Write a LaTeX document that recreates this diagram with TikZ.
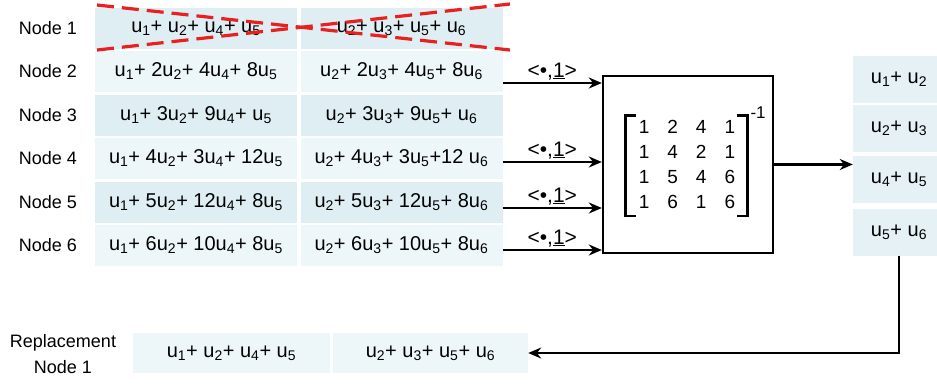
\documentclass[tikz,border=0pt]{standalone}
\usepackage{fontspec}
\setmainfont{Liberation Sans}
\usetikzlibrary{arrows.meta}

\definecolor{celldark}{RGB}{223,238,243}
\definecolor{celllight}{RGB}{237,246,249}
\definecolor{crossred}{RGB}{232,32,32}

\newcommand{\uu}[1]{u\textsubscript{#1}}

\tikzset{
  lbl/.style={font=\fontsize{18}{26}\selectfont, align=center},
  cell/.style={minimum width=202pt, minimum height=41pt, inner sep=0pt, font=\fontsize{20}{24}\selectfont},
  dark/.style={cell, fill=celldark},
  light/.style={cell, fill=celllight},
  outcell/.style={cell, fill=celldark!80!white, minimum width=92pt, minimum height=47pt},
  link/.style={-{Stealth[length=13pt,width=11pt]}, line width=2.4pt},
  tag/.style={above, font=\fontsize{21}{22}\selectfont, inner sep=2pt},
  brk/.style={line width=2.4pt},
  cross/.style={crossred, line width=3.2pt, dash pattern=on 17pt off 8pt}
}

\begin{document}
\begin{tikzpicture}[x=1pt,y=-1pt]
\useasboundingbox (0,0) rectangle (937,384);

% row labels
\node[lbl] (n1) at (48,28) {Node 1};
\node[lbl] (n2) at (48,71) {Node 2};
\node[lbl] (n3) at (48,115) {Node 3};
\node[lbl] (n4) at (48,158) {Node 4};
\node[lbl] (n5) at (48,202) {Node 5};
\node[lbl] (n6) at (48,245) {Node 6};

% coded table
\node[dark]  (r1a) at (196,28) {\uu1+ \uu2+ \uu4+ \uu5};
\node[dark]  (r1b) at (401.5,28) {\uu2+ \uu3+ \uu5+ \uu6};
\node[light] (r2a) at (196,71) {\uu1+ 2\uu2+ 4\uu4+ 8\uu5};
\node[light] (r2b) at (401.5,71) {\uu2+ 2\uu3+ 4\uu5+ 8\uu6};
\node[dark]  (r3a) at (196,115) {\uu1+ 3\uu2+ 9\uu4+ \uu5};
\node[dark]  (r3b) at (401.5,115) {\uu2+ 3\uu3+ 9\uu5+ \uu6};
\node[light] (r4a) at (196,158) {\uu1+ 4\uu2+ 3\uu4+ 12\uu5};
\node[light] (r4b) at (401.5,158) {\uu2+ 4\uu3+ 3\uu5+12 \uu6};
\node[dark]  (r5a) at (196,202) {\uu1+ 5\uu2+ 12\uu4+ 8\uu5};
\node[dark]  (r5b) at (401.5,202) {\uu2+ 5\uu3+ 12\uu5+ 8\uu6};
\node[light] (r6a) at (196,245) {\uu1+ 6\uu2+ 10\uu4+ 8\uu5};
\node[light] (r6b) at (401.5,245) {\uu2+ 6\uu3+ 10\uu5+ 8\uu6};

% node 1 is lost
\draw[cross] (97,5) -- (510,50);
\draw[cross] (97,50) -- (510,4);

% decoder
\node[draw, line width=2.4pt, minimum width=170pt, minimum height=177pt, inner sep=0pt] (box) at (688,164.5) {};
\node[inner sep=0pt, font=\fontsize{19}{25}\selectfont] (mat) at (687,165.5) {%
  \begin{tabular}{@{}c@{\hspace{18pt}}c@{\hspace{18pt}}c@{\hspace{18pt}}c@{}}
  1 & 2 & 4 & 1\\
  1 & 4 & 2 & 1\\
  1 & 5 & 4 & 6\\
  1 & 6 & 1 & 6
  \end{tabular}};
\draw[brk] ([xshift=-3pt]mat.north west) -- ([xshift=-13pt]mat.north west) -- ([xshift=-13pt]mat.south west) -- ([xshift=-3pt]mat.south west);
\draw[brk] ([xshift=2pt]mat.north east) -- ([xshift=12pt]mat.north east) -- ([xshift=12pt]mat.south east) -- ([xshift=2pt]mat.south east);
\node[anchor=west, inner sep=0pt, font=\fontsize{17}{18}\selectfont] (inv) at ([xshift=15pt,yshift=3pt]mat.north east) {-1};

% inputs
\coordinate (in2) at (box.west |- 0,83);
\coordinate (in4) at (box.west |- 0,162);
\coordinate (in5) at (box.west |- 0,208);
\coordinate (in6) at (box.west |- 0,250);
\draw[link] (r2b.east |- in2) -- (in2) node[tag, midway] {<•,\underline{1}>};
\draw[link] (r4b.east |- in4) -- (in4) node[tag, midway] {<•,\underline{1}>};
\draw[link] (r5b.east |- in5) -- (in5) node[tag, midway] {<•,\underline{1}>};
\draw[link] (r6b.east |- in6) -- (in6) node[tag, midway] {<•,\underline{1}>};

% decoded pairs
\node[outcell] (o1) at (899,79) {\uu1+ \uu2};
\node[outcell] (o2) at (899,128) {\uu2+ \uu3};
\node[outcell] (o3) at (899,179) {\uu4+ \uu5};
\node[outcell] (o4) at (899,232) {\uu5+ \uu6};
\draw[link] (box.east) -- (box.east -| o1.west);

% replacement node
\node[lbl] (rl) at (63,354) {Replacement\\Node 1};
\node[light, minimum width=197pt, minimum height=40pt] (rep1) at (231.5,353) {\uu1+ \uu2+ \uu4+ \uu5};
\node[light, minimum width=195pt, minimum height=40pt] (rep2) at (430.5,353) {\uu2+ \uu3+ \uu5+ \uu6};
\draw[link] (o4.south) -- (o4.south |- rep2.east) -- (rep2.east);
\end{tikzpicture}
\end{document}
